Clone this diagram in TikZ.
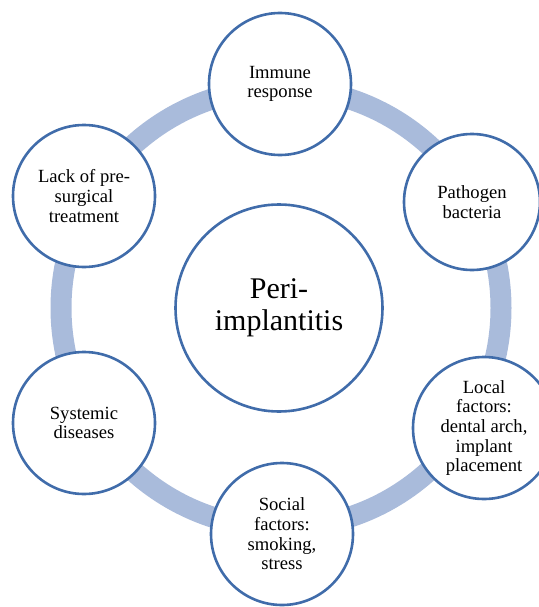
\documentclass[tikz,border=0pt]{standalone}
\usepackage{fontspec}
\setmainfont{Liberation Serif}
\definecolor{ringblue}{RGB}{169,187,219}
\definecolor{edgeblue}{RGB}{64,108,170}

\begin{document}
\begin{tikzpicture}[
    x=1pt, y=-1pt,
    ring/.style={draw=ringblue, line width=21pt},
    factor/.style={circle, draw=edgeblue, line width=2.6pt, fill=white, minimum size=142pt, inner sep=0pt, align=center, font=\fontsize{18.6}{19.6}\selectfont},
    core/.style={circle, draw=edgeblue, line width=2.6pt, fill=white, minimum size=207pt, inner sep=0pt, align=center, font=\fontsize{30}{32}\selectfont}
  ]
    \useasboundingbox (0,0) rectangle (538,607);

    \draw[ring] (281,308) circle (220);

    \node[core] (core) at (279,308) {Peri-\\implantitis};

    \node[factor] (immune) at (280,84) {Immune\\response};
    \node[factor, minimum size=136pt] (pathogen) at (472,202) {Pathogen\\bacteria};
    \node[factor] (local) at (484,428) {Local\\factors:\\dental arch,\\implant\\placement};
    \node[factor] (social) at (282,534) {Social\\factors:\\smoking,\\stress};
    \node[factor] (systemic) at (84,423) {Systemic\\diseases};
    \node[factor] (lack) at (84,196) {Lack of pre-\\surgical\\treatment};
  \end{tikzpicture}
\end{document}
